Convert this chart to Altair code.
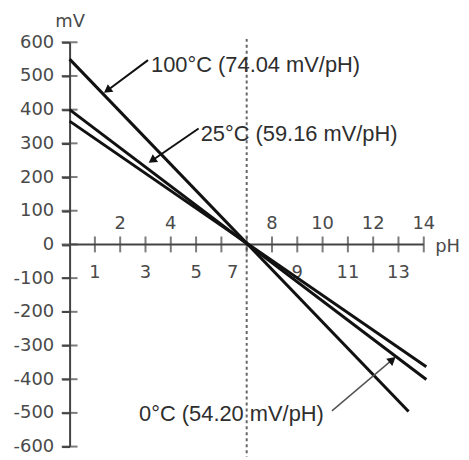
import altair as alt
import pandas as pd

# ---- data ----
series = ["100°C", "25°C", "0°C"]
ph_start = [0, 0, 0]
ph_end = [13.4, 14.1, 14.1]
mv_start = [550, 400, 366]
mv_end = [-496, -401, -363]

y_ticks = list(range(-600, 601, 100))
x_ticks = list(range(1, 15))
odd_labels = [1, 3, 5, 7, 9, 11, 13]
even_shown = [2, 4, 8, 10, 12, 14]

neutral_ph = 7
dash_span = [610, -630]

ann_text = ["100°C (74.04 mV/pH)", "25°C (59.16 mV/pH)", "0°C (54.20 mV/pH)"]
ann_text_ph = [3.22, 5.18, 10.05]
ann_text_mv = [532, 329, -503]
ann_align = ["left", "left", "right"]
arrow_tail_ph = [3.10, 5.10, 10.37]
arrow_tail_mv = [547, 344, -494]
arrow_head_ph = [1.49, 3.26, 12.76]
arrow_head_mv = [457, 249, -342]
arrow_angle = [234, 235.5, 50]

# ---- tables ----
rows = []
for s, a, b, c, d in zip(series, ph_start, ph_end, mv_start, mv_end):
    rows.append({"series": s, "pH": a, "mV": c})
    rows.append({"series": s, "pH": b, "mV": d})
lines_df = pd.DataFrame(rows)

xs = alt.Scale(domain=[0, 15], nice=False, zero=False)
ys = alt.Scale(domain=[-600, 600], nice=False, zero=False)

AX_COLOR = "#444444"
LBL_COLOR = "#4a4a4a"
LBL_FONT = "DejaVu Sans"
LBL_SIZE = 18

YAXIS = alt.Axis(
    values=y_ticks, labelExpr="'' + datum.value", grid=False,
    domainColor=AX_COLOR, domainWidth=2, tickColor=AX_COLOR, tickWidth=2,
    tickSize=8, labelPadding=8, labelFont=LBL_FONT, labelFontSize=LBL_SIZE,
    labelColor=LBL_COLOR, title="mV", titleAngle=0, titleX=0, titleY=-21,
    titleAlign="center", titleBaseline="middle", titleFont=LBL_FONT,
    titleFontSize=LBL_SIZE, titleFontWeight="normal", titleColor=LBL_COLOR,
)

def X(field="pH"):
    return alt.X(f"{field}:Q", scale=xs, axis=None)

def Y(field="mV"):
    return alt.Y(f"{field}:Q", scale=ys, axis=YAXIS)

# y axis inner ticks
yticks = alt.Chart(pd.DataFrame({"mV": y_ticks, "pH": [0] * len(y_ticks)})).mark_tick(
    orient="horizontal", size=16, thickness=2, color=AX_COLOR
).encode(x=X(), y=Y())

# x axis line at y=0
xline = alt.Chart(pd.DataFrame({"a": [0], "b": [max(x_ticks)], "mV": [0]})).mark_rule(
    color=AX_COLOR, strokeWidth=2
).encode(x=X("a"), x2="b:Q", y=Y())

xticks = alt.Chart(pd.DataFrame({"pH": x_ticks, "mV": [0] * len(x_ticks)})).mark_tick(
    orient="vertical", size=16, thickness=2, color=AX_COLOR
).encode(x=X(), y=Y())

even_df = pd.DataFrame({"pH": even_shown, "mV": [0] * len(even_shown)})
odd_df = pd.DataFrame({"pH": odd_labels, "mV": [0] * len(odd_labels)})

even_txt = alt.Chart(even_df).mark_text(
    dy=-21, font=LBL_FONT, fontSize=LBL_SIZE, color=LBL_COLOR
).encode(x=X(), y=Y(), text="pH:Q")

odd_txt = alt.Chart(odd_df).transform_filter(f"datum.pH != {neutral_ph}").mark_text(
    dy=29, font=LBL_FONT, fontSize=LBL_SIZE, color=LBL_COLOR
).encode(x=X(), y=Y(), text="pH:Q")

seven_txt = alt.Chart(odd_df).transform_filter(f"datum.pH == {neutral_ph}").mark_text(
    dy=29, dx=-14, font=LBL_FONT, fontSize=LBL_SIZE, color=LBL_COLOR
).encode(x=X(), y=Y(), text="pH:Q")

ph_lbl = alt.Chart(pd.DataFrame({"pH": [14.45], "mV": [0], "t": ["pH"]})).mark_text(
    align="left", dy=3, font=LBL_FONT, fontSize=LBL_SIZE, color=LBL_COLOR
).encode(x=X(), y=Y(), text="t:N")

# dashed neutral line
dash = alt.Chart(pd.DataFrame({"pH": [neutral_ph], "a": [dash_span[0]], "b": [dash_span[1]]})).mark_rule(
    color="#666666", strokeWidth=2, strokeDash=[3, 3], clip=False
).encode(x=X(), y=Y("a"), y2="b:Q")

# response lines
lines = alt.Chart(lines_df).mark_line(color="#111111", strokeWidth=3, clip=False).encode(
    x=X(), y=Y(), detail="series:N"
)

# annotations
ann_df = pd.DataFrame({
    "t": ann_text, "tx": ann_text_ph, "ty": ann_text_mv, "al": ann_align,
    "ax": arrow_tail_ph, "ay": arrow_tail_mv, "hx": arrow_head_ph, "hy": arrow_head_mv,
    "ang": arrow_angle, "idx": [0, 1, 2],
})

ANN_FONT = "Liberation Sans"
ANN_SIZE = 22

ann_left = alt.Chart(ann_df).transform_filter("datum.al == 'left'").mark_text(
    align="left", baseline="middle", font=ANN_FONT, fontSize=ANN_SIZE, color="#2e2e2e"
).encode(x=X("tx"), y=Y("ty"), text="t:N")

ann_right = alt.Chart(ann_df).transform_filter("datum.al == 'right'").mark_text(
    align="right", baseline="middle", font=ANN_FONT, fontSize=ANN_SIZE, color="#2e2e2e"
).encode(x=X("tx"), y=Y("ty"), text="t:N")

arrows_dark = alt.Chart(ann_df).transform_filter("datum.idx < 2").mark_rule(
    color="#111111", strokeWidth=2
).encode(x=X("ax"), y=Y("ay"), x2="hx:Q", y2="hy:Q")

arrows_light = alt.Chart(ann_df).transform_filter("datum.idx == 2").mark_rule(
    color="#555555", strokeWidth=1.5
).encode(x=X("ax"), y=Y("ay"), x2="hx:Q", y2="hy:Q")

heads = alt.Chart(ann_df).mark_point(
    shape="triangle-up", filled=True, size=90, color="#111111", opacity=1
).encode(x=X("hx"), y=Y("hy"), angle=alt.Angle("ang:Q", scale=None))

chart = alt.layer(
    dash, xline, xticks, yticks, even_txt, odd_txt, seven_txt, ph_lbl,
    lines, arrows_dark, arrows_light, heads, ann_left, ann_right,
).properties(
    width=382, height=407,
    autosize=alt.AutoSizeParams(type="none"),
    padding={"left": 62, "top": 33, "right": 12, "bottom": 10},
    background="white",
).configure_view(stroke=None)

chart.save("out.html", embed_options={"renderer": "svg", "actions": False})
